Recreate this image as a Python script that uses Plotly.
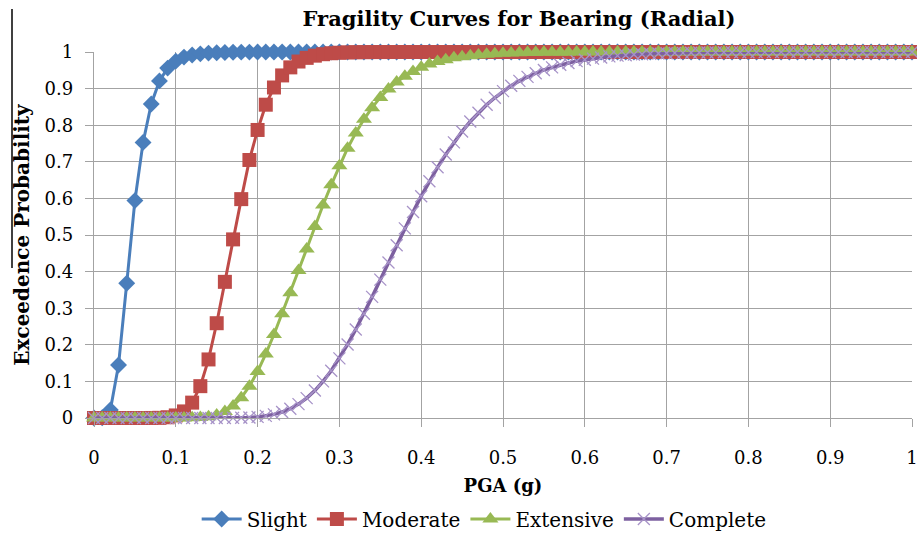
import plotly.graph_objects as go

# PGA (g) grid
pga = [0.00, 0.01, 0.02, 0.03, 0.04, 0.05, 0.06, 0.07, 0.08, 0.09,
       0.10, 0.11, 0.12, 0.13, 0.14, 0.15, 0.16, 0.17, 0.18, 0.19,
       0.20, 0.21, 0.22, 0.23, 0.24, 0.25, 0.26, 0.27, 0.28, 0.29,
       0.30, 0.31, 0.32, 0.33, 0.34, 0.35, 0.36, 0.37, 0.38, 0.39,
       0.40, 0.41, 0.42, 0.43, 0.44, 0.45, 0.46, 0.47, 0.48, 0.49,
       0.50, 0.51, 0.52, 0.53, 0.54, 0.55, 0.56, 0.57, 0.58, 0.59,
       0.60, 0.61, 0.62, 0.63, 0.64, 0.65, 0.66, 0.67, 0.68, 0.69,
       0.70, 0.71, 0.72, 0.73, 0.74, 0.75, 0.76, 0.77, 0.78, 0.79,
       0.80, 0.81, 0.82, 0.83, 0.84, 0.85, 0.86, 0.87, 0.88, 0.89,
       0.90, 0.91, 0.92, 0.93, 0.94, 0.95, 0.96, 0.97, 0.98, 0.99,
       1.00]

slight = [0.0, 0.0006, 0.022, 0.145, 0.368, 0.594, 0.753, 0.858, 0.921, 0.956,
          0.975, 0.986, 0.992, 0.995, 0.997, 0.998, 0.9988, 0.9993, 0.9996, 0.9997,
          0.9998, 0.9999, 0.9999, 0.9999, 0.9999, 0.9999, 1.0, 1.0, 1.0, 1.0,
          1.0, 1.0, 1.0, 1.0, 1.0, 1.0, 1.0, 1.0, 1.0, 1.0,
          1.0, 1.0, 1.0, 1.0, 1.0, 1.0, 1.0, 1.0, 1.0, 1.0,
          1.0, 1.0, 1.0, 1.0, 1.0, 1.0, 1.0, 1.0, 1.0, 1.0,
          1.0, 1.0, 1.0, 1.0, 1.0, 1.0, 1.0, 1.0, 1.0, 1.0,
          1.0, 1.0, 1.0, 1.0, 1.0, 1.0, 1.0, 1.0, 1.0, 1.0,
          1.0, 1.0, 1.0, 1.0, 1.0, 1.0, 1.0, 1.0, 1.0, 1.0,
          1.0, 1.0, 1.0, 1.0, 1.0, 1.0, 1.0, 1.0, 1.0, 1.0,
          1.0]

moderate = [0.0, 0.0, 0.0, 0.0, 0.0, 0.0, 0.0, 0.0001, 0.0004, 0.002,
            0.007, 0.018, 0.042, 0.087, 0.160, 0.259, 0.372, 0.488, 0.598, 0.705,
            0.787, 0.856, 0.903, 0.936, 0.958, 0.974, 0.984, 0.990, 0.994, 0.9966,
            0.998, 0.9989, 0.9994, 0.9996, 0.9998, 0.9999, 0.9999, 1.0, 1.0, 1.0,
            1.0, 1.0, 1.0, 1.0, 1.0, 1.0, 1.0, 1.0, 1.0, 1.0,
            1.0, 1.0, 1.0, 1.0, 1.0, 1.0, 1.0, 1.0, 1.0, 1.0,
            1.0, 1.0, 1.0, 1.0, 1.0, 1.0, 1.0, 1.0, 1.0, 1.0,
            1.0, 1.0, 1.0, 1.0, 1.0, 1.0, 1.0, 1.0, 1.0, 1.0,
            1.0, 1.0, 1.0, 1.0, 1.0, 1.0, 1.0, 1.0, 1.0, 1.0,
            1.0, 1.0, 1.0, 1.0, 1.0, 1.0, 1.0, 1.0, 1.0, 1.0,
            1.0]

extensive = [0.0, 0.0, 0.0, 0.0, 0.0, 0.0, 0.0, 0.0, 0.0, 0.0,
             0.00002, 0.0001, 0.0004, 0.0012, 0.0035, 0.008, 0.018, 0.033, 0.055, 0.087,
             0.127, 0.175, 0.228, 0.285, 0.342, 0.403, 0.462, 0.523, 0.582, 0.637,
             0.689, 0.737, 0.779, 0.816, 0.848, 0.876, 0.899, 0.918, 0.934, 0.947,
             0.958, 0.967, 0.974, 0.979, 0.984, 0.987, 0.990, 0.992, 0.994, 0.995,
             0.9964, 0.9972, 0.9979, 0.9984, 0.9988, 0.9991, 0.9993, 0.9995, 0.9996, 0.9997,
             0.9998, 0.9998, 0.9998, 0.9998, 0.9998, 0.9999, 0.9999, 0.9999, 0.9999, 0.9999,
             1.0, 1.0, 1.0, 1.0, 1.0, 1.0, 1.0, 1.0, 1.0, 1.0,
             1.0, 1.0, 1.0, 1.0, 1.0, 1.0, 1.0, 1.0, 1.0, 1.0,
             1.0, 1.0, 1.0, 1.0, 1.0, 1.0, 1.0, 1.0, 1.0, 1.0,
             1.0]

complete = [0.0, 0.0, 0.0, 0.0, 0.0, 0.0, 0.0, 0.0, 0.0, 0.0,
            0.0, 0.0, 0.0, 0.0, 0.000005, 0.00003, 0.0001, 0.0003, 0.0007, 0.0015,
            0.003, 0.0057, 0.0099, 0.0163, 0.0255, 0.038, 0.0544, 0.075, 0.100, 0.129,
            0.163, 0.201, 0.242, 0.285, 0.331, 0.378, 0.425, 0.472, 0.518, 0.563,
            0.606, 0.647, 0.685, 0.720, 0.753, 0.783, 0.810, 0.834, 0.856, 0.875,
            0.893, 0.908, 0.921, 0.932, 0.942, 0.951, 0.958, 0.965, 0.970, 0.975,
            0.979, 0.982, 0.985, 0.988, 0.990, 0.991, 0.993, 0.994, 0.995, 0.996,
            0.9966, 0.9972, 0.9977, 0.9981, 0.9985, 0.9988, 0.999, 0.9992, 0.9993, 0.9994,
            0.9995, 0.9996, 0.9997, 0.9997, 0.9998, 0.9998, 0.9998, 0.9999, 0.9999, 0.9999,
            0.9999, 0.9999, 1.0, 1.0, 1.0, 1.0, 1.0, 1.0, 1.0, 1.0,
            1.0]

tick_vals = [0, 0.1, 0.2, 0.3, 0.4, 0.5, 0.6, 0.7, 0.8, 0.9, 1]
tick_text = ["0", "0.1", "0.2", "0.3", "0.4", "0.5", "0.6", "0.7", "0.8", "0.9", "1"]

SERIF = "DejaVu Serif"
GRID = "#A3A3A3"

fig = go.Figure()

fig.add_trace(go.Scatter(
    x=pga, y=slight, name="Slight", mode="lines+markers", cliponaxis=False,
    line=dict(color="#4A7EBB", width=3),
    marker=dict(symbol="diamond", size=13, color="#4A7EBB", line=dict(width=0))))
fig.add_trace(go.Scatter(
    x=pga, y=moderate, name="Moderate", mode="lines+markers", cliponaxis=False,
    line=dict(color="#BE4B48", width=3),
    marker=dict(symbol="square", size=14, color="#BE4B48", line=dict(width=0))))
fig.add_trace(go.Scatter(
    x=pga, y=extensive, name="Extensive", mode="lines+markers", cliponaxis=False,
    line=dict(color="#98B954", width=3),
    marker=dict(symbol="triangle-up", size=14, color="#98B954", line=dict(width=0))))
fig.add_trace(go.Scatter(
    x=pga, y=complete, name="Complete", mode="lines+markers", cliponaxis=False,
    line=dict(color="#7D60A0", width=3.5),
    marker=dict(symbol="x-thin-open", size=12, color="#A793C8",
                line=dict(width=1.3, color="#A793C8"))))

fig.update_layout(
    width=917, height=535, autosize=False,
    margin=dict(l=94, r=5, t=52, b=117),
    paper_bgcolor="white", plot_bgcolor="white",
    font=dict(family=SERIF, size=18, color="black"),
    title=dict(text="<b>Fragility Curves for Bearing (Radial)</b>",
               font=dict(family=SERIF, size=21, color="black"),
               x=0.566, xref="container", xanchor="center",
               y=1 - 19 / 535, yref="container", yanchor="middle"),
    xaxis=dict(range=[0, 1], tickvals=tick_vals, ticktext=tick_text,
               showgrid=True, gridcolor=GRID, gridwidth=1.3,
               showline=True, linecolor=GRID, linewidth=1.3,
               ticks="outside", ticklen=8, tickcolor=GRID, tickwidth=1.3,
               ticklabelstandoff=15, ticklabeloverflow="allow", zeroline=False,
               automargin=False,
               tickfont=dict(family=SERIF, size=18),
               title=dict(text="<b>PGA (g)</b>", font=dict(family=SERIF, size=18),
                          standoff=12)),
    yaxis=dict(range=[0, 1], tickvals=tick_vals, ticktext=tick_text,
               showgrid=True, gridcolor=GRID, gridwidth=1.3,
               showline=True, linecolor=GRID, linewidth=1.3,
               ticks="outside", ticklen=8, tickcolor=GRID, tickwidth=1.3,
               ticklabelstandoff=8, ticklabeloverflow="allow", zeroline=False,
               automargin=False,
               tickfont=dict(family=SERIF, size=18),
               title=dict(text="<b>Exceedence Probability</b>",
                          font=dict(family=SERIF, size=20), standoff=9)),
    legend=dict(orientation="h", x=0.528, xref="container", xanchor="center",
                y=1 - 519 / 535, yref="container", yanchor="middle",
                font=dict(family=SERIF, size=20),
                bgcolor="rgba(0,0,0,0)", itemwidth=40, tracegroupgap=0),
    showlegend=True,
)

# thin vertical artifact line at the left edge of the original image
fig.add_shape(type="line", xref="paper", yref="paper",
              x0=(12 - 94) / 818, x1=(12 - 94) / 818,
              y0=(418 - 9) / 366, y1=(418 - 268) / 366,
              line=dict(color="black", width=1.5))

fig.write_html("out.html")
